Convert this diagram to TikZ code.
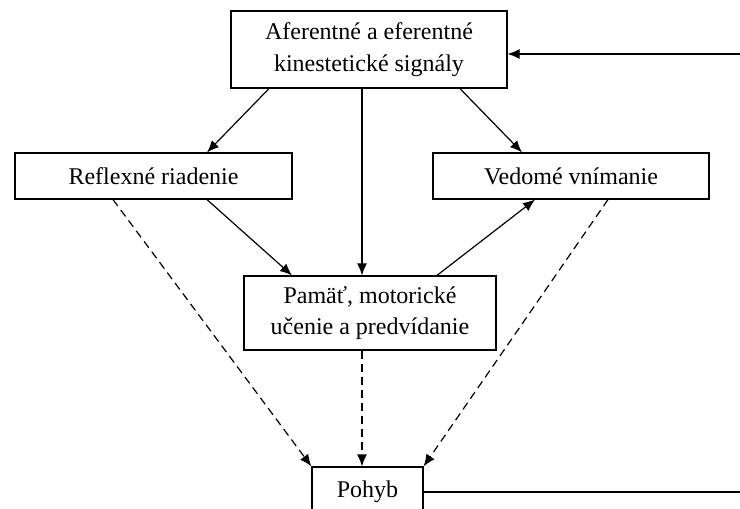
\documentclass[tikz,border=0pt]{standalone}
\usepackage{fontspec}
\setmainfont{Liberation Serif}
\usepackage{tikz}
\usetikzlibrary{arrows.meta,positioning}
\tikzset{
  blok/.style={ draw, line width=1.2pt, align=center, inner sep=0pt, font=\fontsize{24}{31.5}\selectfont }
}
\tikzset{
  sipka/.style={ line width=1.2pt, -{Latex[length=12pt,width=10pt]} }
}
\tikzset{
  ciarky/.style={ sipka, dash pattern=on 8pt off 5pt }
}

\begin{document}
\begin{tikzpicture}[x=1pt, y=-1pt]
      \useasboundingbox (0,0) rectangle (740,509);
      \clip (0,0) rectangle (740,509);
      \node[blok, minimum width=276pt, minimum height=77pt] (sig) at (369, 49.5) {Aferentné a eferentné\\kinestetické signály};
      \node[blok, minimum width=277pt, minimum height=46pt] (reflex) at (153.5, 176) {Reflexné riadenie};
      \node[blok, minimum width=276pt, minimum height=46pt] (vedome) at (571, 176) {Vedomé vnímanie};
      \node[blok, minimum width=252pt, minimum height=74pt] (pamat) at (370, 313) {Pamäť, motorické\\učenie a predvídanie};
      \node[blok, minimum width=111pt, minimum height=50pt] (pohyb) at (367.5, 492) {Pohyb};
      \coordinate (vstup) at (740, 54); %feedback ends off the page%
      \coordinate (vystup) at (740, 492);
      \draw[sipka] (vstup) -- (vstup -| sig.east);
      \draw[line width=1.2pt] (pohyb.east |- vystup) -- (vystup);
      \draw[sipka] ([xshift=-100pt]sig.south) -- ([xshift=53.5pt]reflex.north);
      \draw[sipka] ([xshift=91pt]sig.south) -- ([xshift=-49pt]vedome.north);
      \draw[sipka] ([xshift=-7pt]sig.south) -- ([xshift=-8pt]pamat.north);
      \draw[sipka] ([xshift=53.5pt]reflex.south) -- ([xshift=-78pt]pamat.north);
      \draw[sipka] ([xshift=67pt]pamat.north) -- ([xshift=-36pt]vedome.south);
      \draw[ciarky] ([xshift=-40.5pt]reflex.south) -- (pohyb.north west);
      \draw[ciarky] ([xshift=-8pt]pamat.south) -- ([xshift=-5.5pt]pohyb.north);
      \draw[ciarky] ([xshift=37pt]vedome.south) -- (pohyb.north east);
\end{tikzpicture}
\end{document}
